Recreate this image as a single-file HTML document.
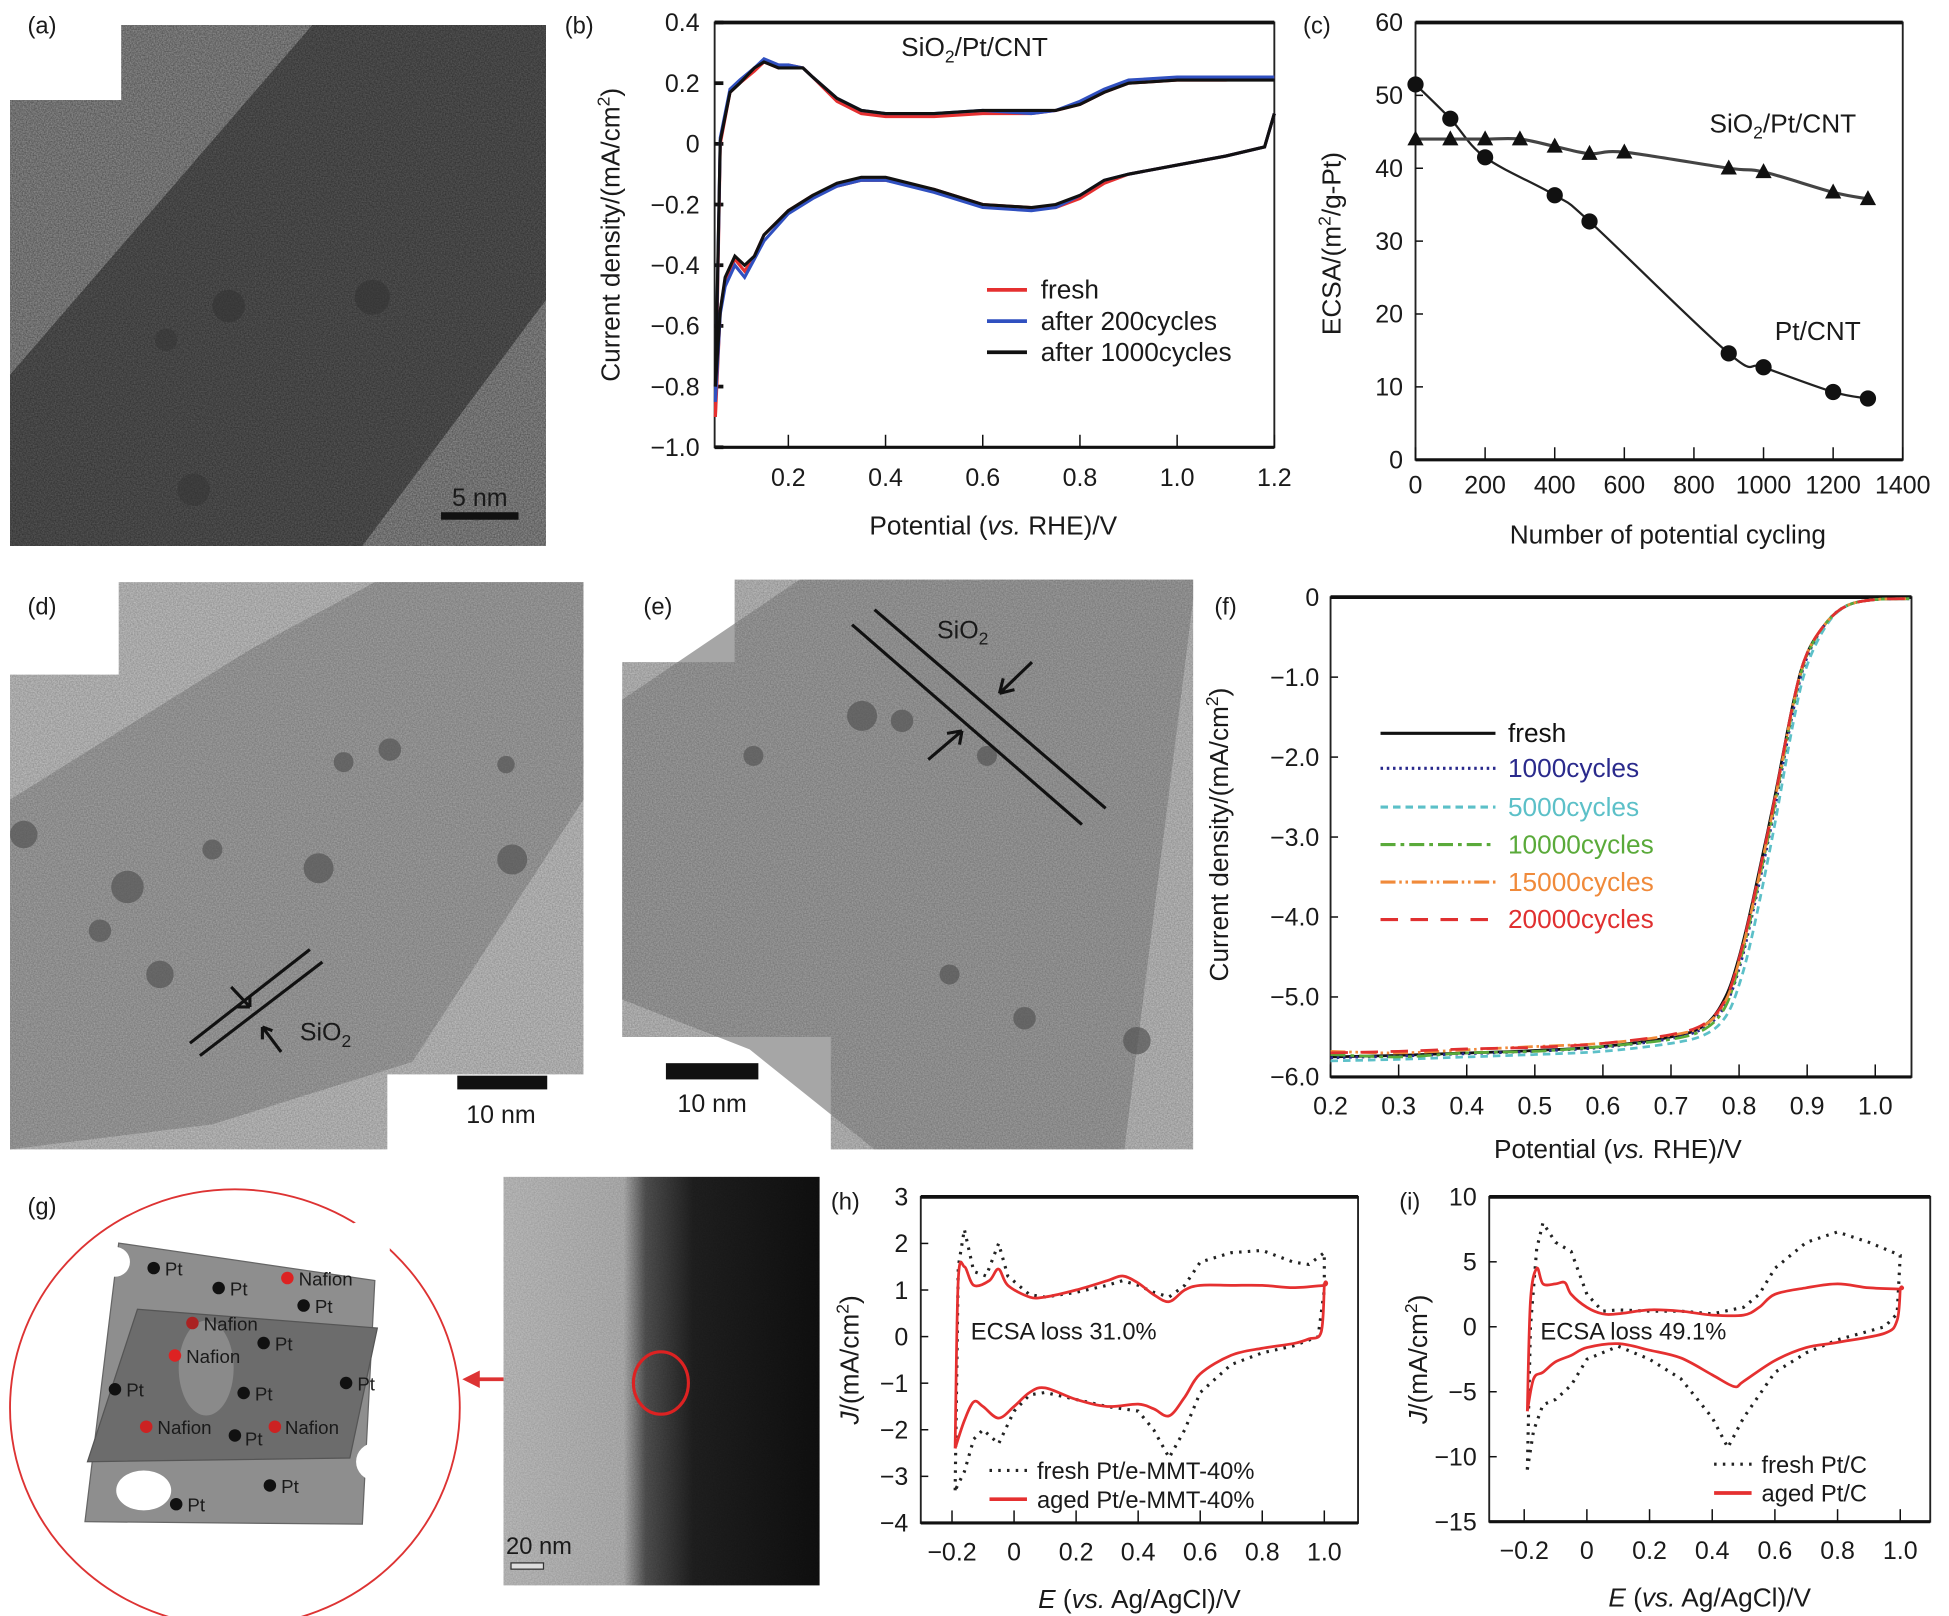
<!DOCTYPE html>
<html><head><meta charset="utf-8"><style>
html,body{margin:0;padding:0;background:#fff}
svg{display:block}
text{font-family:"Liberation Sans",sans-serif;fill:#1a1a1a}
</style></head><body>
<svg id="fig" width="1949" height="1616" viewBox="0 0 1560 1293.5" xmlns="http://www.w3.org/2000/svg">
<defs>
<filter id="noise" x="0" y="0" width="100%" height="100%"><feTurbulence type="fractalNoise" baseFrequency="0.9" numOctaves="2" seed="3"/><feColorMatrix type="matrix" values="0 0 0 0 0  0 0 0 0 0  0 0 0 0 0  0 0 0 0.55 0"/><feComposite in2="SourceGraphic" operator="in"/></filter>
<linearGradient id="temg" x1="0" x2="1" y1="0" y2="0"><stop offset="0" stop-color="#c4c4c4"/><stop offset="0.38" stop-color="#b8b8b8"/><stop offset="0.45" stop-color="#555"/><stop offset="0.6" stop-color="#222"/><stop offset="1" stop-color="#111"/></linearGradient>
</defs>

<g>
<path d="M97,20 H437 V437 H8 V80 H97 Z" fill="#9a9a9a"/>
<path d="M250,20 H437 V240 L290,437 H60 L8,437 V300 Z" fill="#5e5e5e"/>
<path d="M97,20 H437 V437 H8 V80 H97 Z" fill="#777" filter="url(#noise)"/>
<circle cx="183" cy="245" r="13" fill="#333" opacity=".6"/><circle cx="298" cy="238" r="14" fill="#333" opacity=".6"/><circle cx="133" cy="272" r="9" fill="#333" opacity=".5"/><circle cx="155" cy="392" r="13" fill="#333" opacity=".5"/>
<rect x="353" y="410" width="62" height="6" fill="#111"/>
<text x="384" y="405" font-size="20" text-anchor="middle">5 nm</text>
</g>
<text x="22" y="27" font-size="19">(a)</text>

<g>
<path d="M95,466 H467 V860 H310 V920 H8 V540 H95 Z" fill="#c9c9c9"/>
<path d="M300,466 H467 V640 L330,850 L170,900 L8,920 V640 L200,520 Z" fill="#a9a9a9"/>
<path d="M95,466 H467 V860 H310 V920 H8 V540 H95 Z" fill="#888" filter="url(#noise)" opacity=".6"/>
<g fill="#555" opacity=".7"><circle cx="102" cy="710" r="13"/><circle cx="255" cy="695" r="12"/><circle cx="128" cy="780" r="11"/><circle cx="410" cy="688" r="12"/><circle cx="312" cy="600" r="9"/><circle cx="275" cy="610" r="8"/><circle cx="80" cy="745" r="9"/><circle cx="405" cy="612" r="7"/><circle cx="19" cy="668" r="11"/><circle cx="170" cy="680" r="8"/></g>
<line x1="152" y1="835" x2="248" y2="760" stroke="#111" stroke-width="2.5"/><line x1="160" y1="845" x2="258" y2="770" stroke="#111" stroke-width="2.5"/>
<path d="M185,790 L200,806 M200,806 L190,806 M200,806 L200,797" stroke="#111" stroke-width="2.5" fill="none"/>
<path d="M225,842 L210,822 M210,822 L210,832 M210,822 L218,825" stroke="#111" stroke-width="2.5" fill="none"/>
<text x="240" y="833" font-size="20">SiO<tspan font-size="14" dy="5">2</tspan></text>
<rect x="366" y="861" width="72" height="11" fill="#111"/>
<text x="401" y="899" font-size="20" text-anchor="middle">10 nm</text>
</g>
<text x="22" y="492" font-size="19">(d)</text>

<g>
<path d="M588,464 H955 V920 H665 V830 H498 V530 H588 Z" fill="#c6c6c6"/>
<path d="M640,464 H955 V480 L900,920 H700 L600,840 L498,800 V560 Z" fill="#a6a6a6"/>
<path d="M588,464 H955 V920 H665 V830 H498 V530 H588 Z" fill="#888" filter="url(#noise)" opacity=".6"/>
<g fill="#555" opacity=".7"><circle cx="690" cy="573" r="12"/><circle cx="722" cy="577" r="9"/><circle cx="603" cy="605" r="8"/><circle cx="910" cy="833" r="11"/><circle cx="820" cy="815" r="9"/><circle cx="760" cy="780" r="8"/><circle cx="790" cy="605" r="8"/></g>
<line x1="700" y1="488" x2="885" y2="647" stroke="#111" stroke-width="2.5"/><line x1="682" y1="500" x2="866" y2="660" stroke="#111" stroke-width="2.5"/>
<path d="M826,530 L800,555 M800,555 L803,543 M800,555 L812,552" stroke="#111" stroke-width="2.5" fill="none"/>
<path d="M743,608 L770,585 M770,585 L758,587 M770,585 L768,596" stroke="#111" stroke-width="2.5" fill="none"/>
<text x="750" y="511" font-size="20">SiO<tspan font-size="14" dy="5">2</tspan></text>
<rect x="533" y="851" width="74" height="13" fill="#111"/>
<text x="570" y="890" font-size="20" text-anchor="middle">10 nm</text>
</g>
<text x="515" y="492" font-size="19">(e)</text>

<g>
<ellipse cx="188" cy="1127" rx="180" ry="175" fill="none" stroke="#d33" stroke-width="1.5"/>
<path d="M95,995 L300,1025 L290,1220 L68,1218 Z" fill="#8e8e8e" stroke="#666"/>
<path d="M110,1048 L302,1063 L280,1167 L70,1170 Z" fill="#6c6c6c" stroke="#555"/>
<ellipse cx="165" cy="1095" rx="22" ry="38" fill="#8a8a8a"/>
<ellipse cx="115" cy="1193" rx="22" ry="16" fill="#fff"/>
<circle cx="92" cy="1010" r="12" fill="#fff"/><circle cx="290" cy="1000" r="22" fill="#fff"/><circle cx="300" cy="1170" r="15" fill="#fff"/>
<g font-size="15">
<circle cx="123" cy="1015" r="5" fill="#111"/><text x="132" y="1021">Pt</text>
<circle cx="175" cy="1031" r="5" fill="#111"/><text x="184" y="1037">Pt</text>
<circle cx="230" cy="1023" r="5" fill="#d22"/><text x="239" y="1029">Nafion</text>
<circle cx="243" cy="1045" r="5" fill="#111"/><text x="252" y="1051">Pt</text>
<circle cx="154" cy="1059" r="5" fill="#a22"/><text x="163" y="1065">Nafion</text>
<circle cx="211" cy="1075" r="5" fill="#111"/><text x="220" y="1081">Pt</text>
<circle cx="140" cy="1085" r="5" fill="#d22"/><text x="149" y="1091">Nafion</text>
<circle cx="92" cy="1112" r="5" fill="#111"/><text x="101" y="1118">Pt</text>
<circle cx="195" cy="1115" r="5" fill="#111"/><text x="204" y="1121">Pt</text>
<circle cx="277" cy="1107" r="5" fill="#111"/><text x="286" y="1113">Pt</text>
<circle cx="117" cy="1142" r="5" fill="#c22"/><text x="126" y="1148">Nafion</text>
<circle cx="188" cy="1149" r="5" fill="#111"/><text x="196" y="1157">Pt</text>
<circle cx="220" cy="1142" r="5" fill="#c22"/><text x="228" y="1148">Nafion</text>
<circle cx="216" cy="1189" r="5" fill="#111"/><text x="225" y="1195">Pt</text>
<circle cx="141" cy="1204" r="5" fill="#111"/><text x="150" y="1210">Pt</text>
</g>
<line x1="503" y1="1104" x2="380" y2="1104" stroke="#d33" stroke-width="3"/><path d="M370,1104 L384,1097 L384,1111 Z" fill="#d33"/>
</g>
<text x="22" y="972" font-size="19">(g)</text>
<g>
<rect x="403" y="942" width="253" height="327" fill="url(#temg)"/>
<rect x="403" y="942" width="253" height="327" fill="#666" filter="url(#noise)" opacity=".4"/>
<ellipse cx="529" cy="1107" rx="22" ry="25" fill="none" stroke="#d22" stroke-width="2.5"/>
<text x="405" y="1244" font-size="19">20 nm</text>
<rect x="409" y="1251" width="26" height="5" fill="#ddd" stroke="#333"/>
</g>

<g id="charts"></g>
</svg>
<script>
const bAnoX = [0.05,0.06,0.08,0.1,0.13,0.15,0.18,0.2,0.23,0.25,0.3,0.35,0.4,0.5,0.6,0.7,0.75,0.8,0.85,0.9,1.0,1.1,1.2];
const bFreshAno = [-0.9,0.0,0.17,0.2,0.24,0.27,0.25,0.26,0.25,0.22,0.14,0.1,0.09,0.09,0.1,0.1,0.11,0.13,0.17,0.2,0.21,0.21,0.22];
const b200Ano   = [-0.85,0.02,0.18,0.21,0.25,0.28,0.26,0.26,0.25,0.22,0.15,0.11,0.1,0.1,0.11,0.1,0.11,0.14,0.18,0.21,0.22,0.22,0.22];
const b1000Ano  = [-0.8,0.01,0.17,0.2,0.25,0.27,0.25,0.25,0.25,0.22,0.15,0.11,0.1,0.1,0.11,0.11,0.11,0.13,0.17,0.2,0.21,0.21,0.21];
const bCatX = [1.2,1.18,1.1,1.0,0.9,0.85,0.8,0.75,0.7,0.6,0.5,0.4,0.35,0.3,0.25,0.2,0.15,0.13,0.11,0.09,0.07,0.06,0.05];
const bFreshCat = [0.1,-0.01,-0.04,-0.07,-0.1,-0.13,-0.18,-0.21,-0.21,-0.2,-0.15,-0.12,-0.12,-0.14,-0.17,-0.22,-0.3,-0.37,-0.42,-0.38,-0.45,-0.55,-0.9];
const b200Cat   = [0.1,-0.01,-0.04,-0.07,-0.1,-0.12,-0.17,-0.21,-0.22,-0.21,-0.16,-0.12,-0.12,-0.14,-0.18,-0.23,-0.32,-0.38,-0.44,-0.4,-0.47,-0.56,-0.85];
const b1000Cat  = [0.1,-0.01,-0.04,-0.07,-0.1,-0.12,-0.17,-0.2,-0.21,-0.2,-0.15,-0.11,-0.11,-0.13,-0.17,-0.22,-0.3,-0.37,-0.4,-0.37,-0.44,-0.55,-0.8];
const bYTicks = [0.4,0.2,0,-0.2,-0.4,-0.6,-0.8,-1.0];
const bYLabels = ["0.4","0.2","0","\u22120.2","\u22120.4","\u22120.6","\u22120.8","\u22121.0"];
const bXTicks = [0.2,0.4,0.6,0.8,1.0,1.2];
const bXLabels = ["0.2","0.4","0.6","0.8","1.0","1.2"];
const bLegend = ["fresh","after 200cycles","after 1000cycles"];

const cPtX = [0,100,200,400,500,900,1000,1200,1300];
const cPtY = [51.5,46.8,41.5,36.3,32.7,14.6,12.7,9.3,8.4];
const cSiX = [0,100,200,300,400,500,600,900,1000,1200,1300];
const cSiY = [44,44,44,44,43,42,42.2,40,39.5,36.7,35.8];
const cYTicks = [0,10,20,30,40,50,60];
const cXTicks = [0,200,400,600,800,1000,1200,1400];

const fX = [0.2,0.3,0.4,0.5,0.6,0.7,0.75,0.78,0.8,0.82,0.85,0.88,0.9,0.93,0.96,1.0,1.05];
const fFresh = [-5.75,-5.73,-5.7,-5.67,-5.62,-5.5,-5.35,-5.0,-4.5,-3.8,-2.6,-1.3,-0.7,-0.3,-0.1,-0.03,-0.02];
const f1000  = [-5.76,-5.74,-5.71,-5.68,-5.63,-5.52,-5.38,-5.1,-4.65,-3.95,-2.75,-1.4,-0.75,-0.3,-0.1,-0.03,-0.02];
const f5000  = [-5.8,-5.78,-5.75,-5.72,-5.68,-5.58,-5.47,-5.25,-4.85,-4.2,-2.95,-1.55,-0.85,-0.33,-0.1,-0.03,-0.02];
const f10000 = [-5.72,-5.75,-5.7,-5.68,-5.62,-5.53,-5.4,-5.12,-4.6,-3.9,-2.7,-1.35,-0.72,-0.3,-0.1,-0.03,-0.02];
const f15000 = [-5.68,-5.7,-5.66,-5.62,-5.58,-5.48,-5.35,-5.05,-4.55,-3.85,-2.65,-1.32,-0.7,-0.3,-0.1,-0.03,-0.02];
const f20000 = [-5.7,-5.68,-5.65,-5.63,-5.58,-5.47,-5.33,-5.03,-4.52,-3.82,-2.62,-1.3,-0.7,-0.3,-0.1,-0.03,-0.02];
const fYTicks = [0,-1,-2,-3,-4,-5,-6];
const fYLabels = ["0","\u22121.0","\u22122.0","\u22123.0","\u22124.0","\u22125.0","\u22126.0"];
const fXTicks = [0.2,0.3,0.4,0.5,0.6,0.7,0.8,0.9,1.0];
const fLegend = ["fresh","1000cycles","5000cycles","10000cycles","15000cycles","20000cycles"];

const hAgedX = [-0.19,-0.18,-0.16,-0.13,-0.08,-0.05,-0.02,0.05,0.1,0.2,0.3,0.35,0.4,0.45,0.5,0.55,0.6,0.7,0.8,0.9,1.0,1.0,0.99,0.95,0.9,0.8,0.7,0.6,0.55,0.5,0.45,0.4,0.3,0.2,0.1,0.05,0,-0.05,-0.1,-0.13,-0.16,-0.19];
const hAgedY = [-2.4,1.2,1.5,1.1,1.2,1.45,1.1,0.85,0.85,1.0,1.2,1.3,1.15,0.9,0.75,1.0,1.1,1.1,1.1,1.05,1.1,1.1,0.1,-0.05,-0.15,-0.25,-0.4,-0.8,-1.3,-1.7,-1.55,-1.45,-1.5,-1.35,-1.1,-1.2,-1.5,-1.75,-1.5,-1.4,-1.8,-2.4];
const hFreshX = [-0.19,-0.18,-0.16,-0.13,-0.09,-0.05,-0.02,0.05,0.1,0.2,0.3,0.35,0.4,0.45,0.5,0.55,0.6,0.7,0.8,0.9,0.95,1.0,1.0,0.98,0.9,0.8,0.7,0.6,0.55,0.5,0.45,0.4,0.3,0.2,0.1,0.05,0,-0.05,-0.1,-0.13,-0.16,-0.19];
const hFreshY = [-3.3,1.5,2.3,1.4,1.3,2.0,1.3,0.9,0.85,0.95,1.1,1.2,1.1,0.95,0.85,1.1,1.6,1.8,1.85,1.6,1.55,1.8,1.0,0,-0.2,-0.35,-0.6,-1.2,-2.0,-2.6,-2.0,-1.6,-1.5,-1.35,-1.2,-1.25,-1.6,-2.3,-2.0,-2.2,-2.9,-3.3];
const hYTicks = [3,2,1,0,-1,-2,-3,-4];
const hXTicks = [-0.2,0,0.2,0.4,0.6,0.8,1.0];
const hXLabels = ["\u22120.2","0","0.2","0.4","0.6","0.8","1.0"];

const iAgedX = [-0.19,-0.18,-0.16,-0.14,-0.1,-0.07,-0.05,0,0.05,0.1,0.2,0.3,0.4,0.5,0.55,0.6,0.7,0.8,0.9,1.0,1.0,0.99,0.95,0.8,0.7,0.6,0.5,0.47,0.4,0.3,0.2,0.1,0,-0.05,-0.1,-0.14,-0.17,-0.19];
const iAgedY = [-6.5,2,4.5,3.3,3.3,3.4,2.5,1.5,1.0,1.0,1.3,1.2,0.9,0.9,1.5,2.5,3.0,3.3,3.0,2.9,2.9,0.5,-0.5,-1.2,-1.6,-2.6,-4.2,-4.6,-3.7,-2.4,-1.8,-1.3,-1.6,-2.2,-2.7,-3.5,-4.0,-6.5];
const iFreshX = [-0.19,-0.18,-0.16,-0.14,-0.1,-0.05,0,0.05,0.1,0.2,0.3,0.4,0.5,0.55,0.6,0.7,0.8,0.9,0.95,1.0,1.0,0.99,0.95,0.8,0.7,0.6,0.5,0.45,0.4,0.3,0.2,0.1,0,-0.05,-0.1,-0.14,-0.17,-0.19];
const iFreshY = [-11,0,6,8,6.5,5.8,2.5,1.2,1.3,1.2,1.2,1.0,1.5,2.5,4.5,6.5,7.3,6.5,6,5.5,5.5,1,0,-1,-2,-3.5,-7,-9.3,-7,-4,-2.5,-1.5,-2.5,-4.5,-5.6,-6,-8,-11];
const iYTicks = [10,5,0,-5,-10,-15];
const iYLabels = ["10","5","0","\u22125","\u221210","\u221215"];

const NS="http://www.w3.org/2000/svg";
const root=document.getElementById('charts');
function mk(tag,attrs,parent,txt){const e=document.createElementNS(NS,tag);for(const k in attrs)e.setAttribute(k,attrs[k]);if(txt!==undefined)e.textContent=txt;(parent||root).appendChild(e);return e;}
function scale(d0,d1,r0,r1){return v=>r0+(v-d0)/(d1-d0)*(r1-r0);}
function lineD(xs,ys,sx,sy){return xs.map((x,i)=>(i?'L':'M')+sx(x).toFixed(1)+','+sy(ys[i]).toFixed(1)).join(' ');}
function smoothD(xs,ys,sx,sy){const p=xs.map((x,i)=>[sx(x),sy(ys[i])]);let d='M'+p[0][0]+','+p[0][1];for(let i=0;i<p.length-1;i++){const a=p[i-1]||p[i],b=p[i],c=p[i+1],e=p[i+2]||c;d+=' C'+(b[0]+(c[0]-a[0])/6)+','+(b[1]+(c[1]-a[1])/6)+' '+(c[0]-(e[0]-b[0])/6)+','+(c[1]-(e[1]-b[1])/6)+' '+c[0]+','+c[1];}return d;}
function box(g,x0,y0,x1,y1){mk('rect',{x:x0,y:y0,width:x1-x0,height:y1-y0,fill:'none',stroke:'#222','stroke-width':1.5},g);mk('line',{x1:x0,x2:x1,y1:y0,y2:y0,stroke:'#111','stroke-width':3},g);mk('line',{x1:x0,x2:x1,y1:y1,y2:y1,stroke:'#111','stroke-width':2.5},g);}

(function(){
const g=mk('g',{});
const X0=572,X1=1020,Y0=18,Y1=358;
const sx=scale(0.2,1.2,631,1020),sy=scale(0.4,-1.0,Y0,Y1);
box(g,X0,Y0,X1,Y1);
bYTicks.forEach((v,i)=>{const y=sy(v);const t=mk('line',{x1:X0,x2:X0+7,y1:y,y2:y,stroke:'#111','stroke-width':3},g);
const l=mk('text',{x:560,y:y+7,'font-size':20,'text-anchor':'end'},g,bYLabels[i]);});
bXTicks.forEach((v,i)=>{const x=sx(v);mk('line',{x1:x,x2:x,y1:Y1,y2:Y1-10,stroke:'#111','stroke-width':1.2},g);
const l=mk('text',{x:x,y:389,'font-size':20,'text-anchor':'middle'},g,bXLabels[i]);});
const yt=mk('text',{transform:'translate(496,188) rotate(-90)','font-size':21,'text-anchor':'middle'},g);
yt.innerHTML='Current density/(mA/cm<tspan font-size="14" dy="-8">2</tspan><tspan dy="8">)</tspan>';
const xt=mk('text',{x:795,y:428,'font-size':21,'text-anchor':'middle'},g);
xt.innerHTML='Potential (<tspan font-style="italic">vs.</tspan> RHE)/V';
const tt=mk('text',{x:780,y:45,'font-size':21,'text-anchor':'middle'},g);
tt.innerHTML='SiO<tspan font-size="14" dy="5">2</tspan><tspan dy="-5">/Pt/CNT</tspan>';
const cols=['#e53030','#3050c0','#111'];
[[bFreshAno,bFreshCat],[b200Ano,b200Cat],[b1000Ano,b1000Cat]].forEach((s,k)=>{
const p1=mk('path',{d:lineD(bAnoX,s[0],sx,sy),fill:'none',stroke:cols[k],'stroke-width':2.5},g);
const p2=mk('path',{d:lineD(bCatX,s[1],sx,sy),fill:'none',stroke:cols[k],'stroke-width':2.5},g);});
bLegend.forEach((n,k)=>{const y=232+k*25;mk('line',{x1:790,x2:822,y1:y,y2:y,stroke:cols[k],'stroke-width':3},g);
const l=mk('text',{x:833,y:y+7,'font-size':21},g,n);});
mk('text',{x:452,y:27,'font-size':19},g,'(b)');
})();

(function(){
const g=mk('g',{});
const X0=1133,X1=1523,Y0=18,Y1=368;
const sx=scale(0,1400,X0,X1),sy=scale(60,0,Y0,Y1);
box(g,X0,Y0,X1,Y1);
cYTicks.forEach(v=>{const y=sy(v);mk('line',{x1:X0,x2:X0+6,y1:y,y2:y,stroke:'#111','stroke-width':1.2},g);
const l=mk('text',{x:1123,y:y+7,'font-size':20,'text-anchor':'end'},g,String(v));});
cXTicks.forEach(v=>{const x=sx(v);mk('line',{x1:x,x2:x,y1:Y1,y2:Y1-10,stroke:'#111','stroke-width':1.2},g);
const l=mk('text',{x:x,y:395,'font-size':20,'text-anchor':'middle'},g,String(v));});
const yt=mk('text',{transform:'translate(1073,195) rotate(-90)','font-size':21,'text-anchor':'middle'},g);
yt.innerHTML='ECSA/(m<tspan font-size="14" dy="-8">2</tspan><tspan dy="8">/g-Pt)</tspan>';
const xt=mk('text',{x:1335,y:435,'font-size':21,'text-anchor':'middle'},g,'Number of potential cycling');
const f1=mk('path',{d:smoothD(cPtX,cPtY,sx,sy),fill:'none',stroke:'#222','stroke-width':1.8},g);
const f2=mk('path',{d:smoothD(cSiX,cSiY,sx,sy),fill:'none',stroke:'#444','stroke-width':2.5},g);
cPtX.forEach((x,i)=>{const c=mk('circle',{cx:sx(x),cy:sy(cPtY[i]),r:6.5,fill:'#111'},g);});
cSiX.forEach((x,i)=>{const X=sx(x),Y=sy(cSiY[i]);const t=mk('path',{d:`M${X},${Y-7} L${X+6.5},${Y+5} L${X-6.5},${Y+5} Z`,fill:'#111'},g);});
const a1=mk('text',{x:1427,y:106,'font-size':21,'text-anchor':'middle'},g);
a1.innerHTML='SiO<tspan font-size="14" dy="5">2</tspan><tspan dy="-5">/Pt/CNT</tspan>';
const a2=mk('text',{x:1455,y:272,'font-size':21,'text-anchor':'middle'},g,'Pt/CNT');
mk('text',{x:1043,y:27,'font-size':19},g,'(c)');
})();

(function(){
const g=mk('g',{});
const X0=1065,X1=1530,Y0=478,Y1=862;
const sx=scale(0.2,1.0,1065,1501),sy=scale(0,-6,Y0,Y1);
box(g,X0,Y0,X1,Y1);
fYTicks.forEach((v,i)=>{const y=sy(v);mk('line',{x1:X0,x2:X0+6,y1:y,y2:y,stroke:'#111','stroke-width':1.2},g);
const l=mk('text',{x:1056,y:y+7,'font-size':20,'text-anchor':'end'},g,fYLabels[i]);});
fXTicks.forEach(v=>{const x=sx(v);mk('line',{x1:x,x2:x,y1:Y1,y2:Y1-10,stroke:'#111','stroke-width':1.2},g);
const l=mk('text',{x:x,y:892,'font-size':20,'text-anchor':'middle'},g,v.toFixed(1));});
const yt=mk('text',{transform:'translate(983,668) rotate(-90)','font-size':21,'text-anchor':'middle'},g);
yt.innerHTML='Current density/(mA/cm<tspan font-size="14" dy="-8">2</tspan><tspan dy="8">)</tspan>';
const xt=mk('text',{x:1295,y:927,'font-size':21,'text-anchor':'middle'},g);
xt.innerHTML='Potential (<tspan font-style="italic">vs.</tspan> RHE)/V';
const cols=['#111','#2a2a8c','#5cc0c8','#5aaa3a','#f08a3a','#e03030'];
const dash=['none','2,3','6,4','12,4,3,4','12,3,2,3,2,3','14,10'];
[fFresh,f1000,f5000,f10000,f15000,f20000].forEach((ys,k)=>{const p=mk('path',{d:smoothD(fX,ys,sx,sy),fill:'none',stroke:cols[k],'stroke-width':2.2,'stroke-dasharray':dash[k]},g);});
const ly=[587,615,646,676,706,736];
fLegend.forEach((n,k)=>{mk('line',{x1:1105,x2:1197,y1:ly[k],y2:ly[k],stroke:cols[k],'stroke-width':2.5,'stroke-dasharray':dash[k]},g);
const l=mk('text',{x:1207,y:ly[k]+7,'font-size':21},g,n);l.style.fill=cols[k];});
mk('text',{x:972,y:492,'font-size':19},g,'(f)');
})();

function cvPanel(opts){
const g=mk('g',{});
const sx=scale(-0.2,1.0,opts.xa,opts.xb),sy=scale(opts.ymax,opts.ymin,opts.Y0,opts.Y1);
box(g,opts.X0,opts.Y0,opts.X1,opts.Y1);
opts.yt.forEach((v,i)=>{const y=sy(v);mk('line',{x1:opts.X0,x2:opts.X0+6,y1:y,y2:y,stroke:'#111','stroke-width':1.2},g);
const l=mk('text',{x:opts.X0-10,y:y+7,'font-size':20,'text-anchor':'end'},g,opts.yl[i]);});
hXTicks.forEach((v,i)=>{const x=sx(v);mk('line',{x1:x,x2:x,y1:opts.Y1,y2:opts.Y1-10,stroke:'#111','stroke-width':1.2},g);
const l=mk('text',{x:x,y:opts.Y1+30,'font-size':20,'text-anchor':'middle'},g,hXLabels[i]);});
const yt=mk('text',{transform:`translate(${opts.X0-50},${(opts.Y0+opts.Y1)/2}) rotate(-90)`,'font-size':21,'text-anchor':'middle'},g);
yt.innerHTML='<tspan font-style="italic">J</tspan>/(mA/cm<tspan font-size="14" dy="-8">2</tspan><tspan dy="8">)</tspan>';
const xt=mk('text',{x:(opts.X0+opts.X1)/2,y:opts.Y1+68,'font-size':21,'text-anchor':'middle'},g);
xt.innerHTML='<tspan font-style="italic">E</tspan> (<tspan font-style="italic">vs.</tspan> Ag/AgCl)/V';
const pf=mk('path',{d:lineD(opts.fx,opts.fy,sx,sy),fill:'none',stroke:'#222','stroke-width':2.5,'stroke-dasharray':'2,5'},g);
const pa=mk('path',{d:smoothD(opts.ax,opts.ay,sx,sy),fill:'none',stroke:'#e53030','stroke-width':2.2},g);
const an=mk('text',{x:opts.annX,y:1072,'font-size':19},g,opts.ann);
mk('line',{x1:opts.lx,x2:opts.lx+30,y1:opts.ly,y2:opts.ly,stroke:'#222','stroke-width':2.5,'stroke-dasharray':'2,5'},g);
const l1=mk('text',{x:opts.lx+38,y:opts.ly+7,'font-size':19},g,opts.l1);
mk('line',{x1:opts.lx,x2:opts.lx+30,y1:opts.ly+23,y2:opts.ly+23,stroke:'#e53030','stroke-width':3},g);
const l2=mk('text',{x:opts.lx+38,y:opts.ly+30,'font-size':19},g,opts.l2);
mk('text',{x:opts.X0-72,y:968,'font-size':19},g,opts.label);
}
cvPanel({name:'panel-h-cv-chart',X0:737,X1:1087,Y0:958,Y1:1219,xa:762,xb:1060,ymax:3,ymin:-4,yt:hYTicks,yl:hYTicks.map(v=>v<0?'\u2212'+(-v):String(v)),fx:hFreshX,fy:hFreshY,ax:hAgedX,ay:hAgedY,ann:'ECSA loss 31.0%',annX:777,lx:792,ly:1177,l1:'fresh Pt/e-MMT-40%',l2:'aged Pt/e-MMT-40%',label:'(h)'});
cvPanel({name:'panel-i-cv-chart',X0:1192,X1:1545,Y0:958,Y1:1218,xa:1220,xb:1521,ymax:10,ymin:-15,yt:iYTicks,yl:iYLabels,fx:iFreshX,fy:iFreshY,ax:iAgedX,ay:iAgedY,ann:'ECSA loss 49.1%',annX:1233,lx:1372,ly:1172,l1:'fresh Pt/C',l2:'aged Pt/C',label:'(i)'});
</script>
</body></html>
